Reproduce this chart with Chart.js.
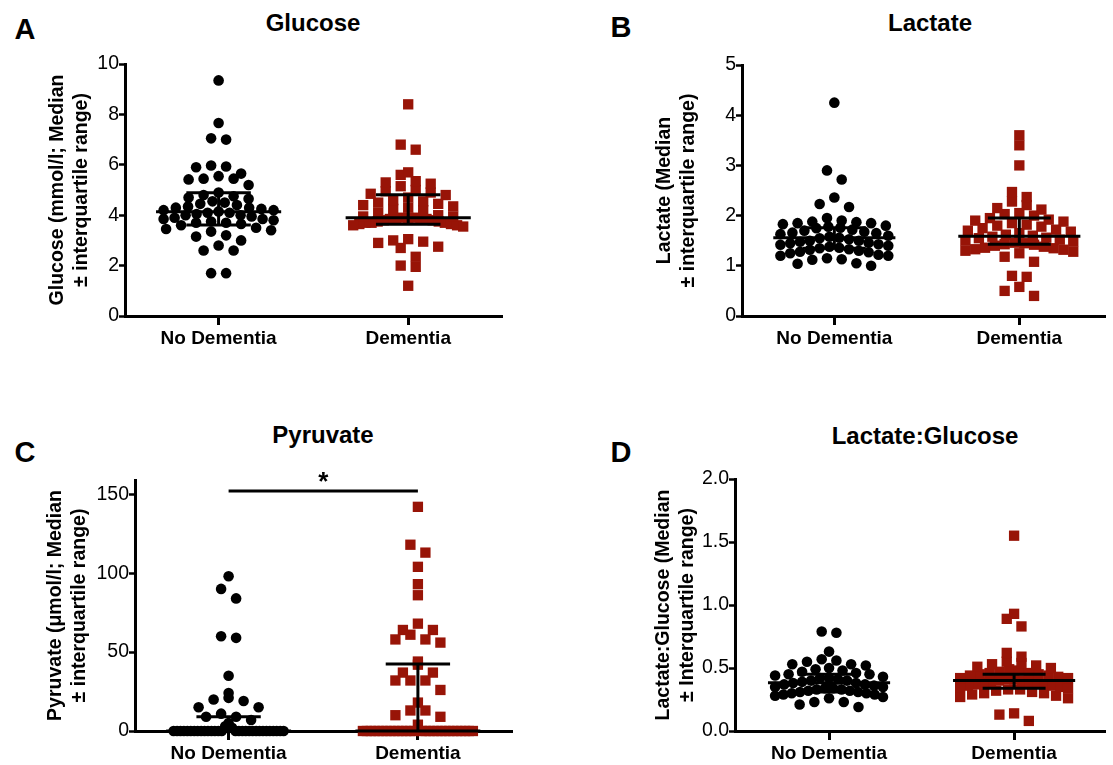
<!DOCTYPE html>
<html>
<head>
<meta charset="utf-8">
<script src="https://cdn.jsdelivr.net/npm/chart.js@4.4.1/dist/chart.umd.min.js"></script>
<style>
  html, body { margin: 0; padding: 0; background: #fff; overflow: hidden; }
  body { width: 1113px; height: 765px; position: relative; font-family: 'Liberation Sans', Arial, Helvetica, sans-serif; }
  .box { position: absolute; }
  .lbl { position: absolute; font-weight: bold; line-height: 1; white-space: nowrap; transform: translate(-50%, -50%); color: #000; }
</style>
</head>
<body>
<script>
// ---- data ----
var categories = ['No Dementia', 'Dementia'];

var glucoseNoDementia = [9.35, 7.66, 7.05, 7.0, 5.97, 5.93, 5.9, 5.65, 5.55, 5.45, 5.45, 5.42, 5.2, 4.9, 4.8, 4.75,
  4.7, 4.65, 4.55, 4.5, 4.45, 4.4, 4.35, 4.3, 4.3, 4.25, 4.2, 4.2, 4.15, 4.1, 4.1, 4.05, 4.0, 4.0, 3.95, 3.9,
  3.85, 3.85, 3.8, 3.75, 3.7, 3.7, 3.65, 3.6, 3.5, 3.45, 3.4, 3.35, 3.2, 3.15, 3.0, 2.8, 2.6, 2.6, 1.7, 1.7];
var glucoseDementia = [8.4, 6.8, 6.6, 5.7, 5.6, 5.35, 5.3, 5.25, 5.15, 5.0, 4.95, 4.9, 4.85, 4.8, 4.7, 4.6,
  4.55, 4.5, 4.45, 4.4, 4.35, 4.3, 4.25, 4.2, 4.1, 4.0, 3.95, 3.95, 3.9, 3.9, 3.9, 3.88, 3.85, 3.85, 3.85, 3.8,
  3.8, 3.75, 3.75, 3.7, 3.7, 3.7, 3.65, 3.65, 3.6, 3.6, 3.55, 3.05, 3.0, 2.95, 2.9, 2.75, 2.7, 2.35, 2.0, 1.95, 1.2];
var glucoseMedian = [4.14, 3.9];
var glucoseQ1 = [3.61, 3.64];
var glucoseQ3 = [4.89, 4.81];
var glucoseTicks = [0, 2, 4, 6, 8, 10];

var lactateNoDementia = [4.25, 2.9, 2.72, 2.36, 2.23, 2.17, 1.95, 1.9, 1.88, 1.87, 1.85, 1.85, 1.83, 1.8, 1.78,
  1.76, 1.75, 1.72, 1.7, 1.68, 1.66, 1.65, 1.63, 1.6, 1.58, 1.56, 1.55, 1.53, 1.5, 1.5, 1.48, 1.46, 1.45, 1.43,
  1.42, 1.4, 1.38, 1.36, 1.35, 1.33, 1.32, 1.3, 1.28, 1.27, 1.25, 1.22, 1.2, 1.2, 1.15, 1.13, 1.12, 1.05, 1.04, 1.0];
var lactateDementia = [3.6, 3.4, 3.0, 2.47, 2.37, 2.28, 2.21, 2.15, 2.12, 2.05, 2.03, 2.0, 1.95, 1.92, 1.9, 1.88,
  1.85, 1.82, 1.8, 1.78, 1.75, 1.72, 1.7, 1.68, 1.65, 1.62, 1.6, 1.58, 1.56, 1.55, 1.52, 1.5, 1.48, 1.46, 1.45,
  1.43, 1.42, 1.4, 1.38, 1.36, 1.35, 1.33, 1.32, 1.3, 1.28, 1.25, 1.18, 1.08, 0.8, 0.78, 0.58, 0.5, 0.4];
var lactateMedian = [1.56, 1.59];
var lactateQ1 = [1.35, 1.43];
var lactateQ3 = [1.76, 1.95];
var lactateTicks = [0, 1, 2, 3, 4, 5];

var pyruvateNoDementia = [98, 90, 84, 60, 59, 35, 24, 21, 20, 19, 15, 15, 11, 9, 9, 7, 5, 3, 2,
  0, 0, 0, 0, 0, 0, 0, 0, 0, 0, 0, 0, 0, 0, 0, 0, 0, 0, 0, 0, 0, 0, 0, 0, 0, 0, 0, 0, 0, 0];
var pyruvateDementia = [142, 118, 113, 104, 93, 86, 68, 64, 64, 61, 58, 58, 56, 44, 42, 37, 37, 32, 32, 32,
  26, 18, 13, 13, 10, 9, 4, 0, 0, 0, 0, 0, 0, 0, 0, 0, 0, 0, 0, 0, 0, 0, 0, 0, 0, 0, 0, 0, 0, 0, 0, 0, 0, 0, 0];
var pyruvateMedian = [0, 0];
var pyruvateQ1 = [0, 0];
var pyruvateQ3 = [9, 42.5];
var pyruvateTicks = [0, 50, 100, 150];
var pyruvateSigPair = [1, 2];
var pyruvateSigLevel = 152;

var ratioNoDementia = [0.79, 0.78, 0.63, 0.57, 0.56, 0.55, 0.53, 0.53, 0.52, 0.5, 0.49, 0.48, 0.47, 0.46, 0.45,
  0.45, 0.44, 0.43, 0.42, 0.42, 0.41, 0.4, 0.4, 0.39, 0.38, 0.38, 0.37, 0.37, 0.36, 0.35, 0.35, 0.34, 0.34, 0.33,
  0.33, 0.32, 0.32, 0.31, 0.31, 0.3, 0.3, 0.29, 0.29, 0.28, 0.27, 0.26, 0.23, 0.23, 0.21, 0.19];
var ratioDementia = [1.55, 0.93, 0.89, 0.83, 0.62, 0.59, 0.55, 0.54, 0.53, 0.52, 0.51, 0.5, 0.49, 0.48, 0.47,
  0.46, 0.46, 0.45, 0.45, 0.44, 0.44, 0.43, 0.42, 0.42, 0.41, 0.41, 0.4, 0.4, 0.39, 0.39, 0.38, 0.38, 0.37, 0.37,
  0.36, 0.36, 0.35, 0.35, 0.34, 0.33, 0.33, 0.32, 0.31, 0.3, 0.3, 0.29, 0.28, 0.27, 0.26, 0.14, 0.13, 0.08];
var ratioMedian = [0.383, 0.40];
var ratioQ1 = [0.31, 0.34];
var ratioQ3 = [0.45, 0.45];
var ratioTicks = [0, 0.5, 1, 1.5, 2];

// ---- look & layout ----
var FONT = "'Liberation Sans', Arial, Helvetica, sans-serif";
var RED = '#981407';
var ROW_PX = 10, STEP_PX = 15, MAX_HALF_PX = 55;
var MED_HALF = 0.33, IQR_HALF = 0.17;

var panels = [
  { letter: 'A', letterPos: [25, 29], title: 'Glucose', titlePos: [313, 23],
    yTitle: ['Glucose (mmol/l; Median', '\u00b1 interquartile range)'],
    noDem: glucoseNoDementia, dem: glucoseDementia, med: glucoseMedian, q1: glucoseQ1, q3: glucoseQ3,
    ticks: glucoseTicks, yMax: 10, fmt: function (v) { return String(v); },
    canvas: [0, 48, 512, 316], plot: [125, 64, 502, 316], yTitleLeft: 46, cats: [218.6, 408.2] },
  { letter: 'B', letterPos: [621, 27], title: 'Lactate', titlePos: [930, 23],
    yTitle: ['Lactate (Median', '\u00b1 interquartile range)'],
    noDem: lactateNoDementia, dem: lactateDementia, med: lactateMedian, q1: lactateQ1, q3: lactateQ3,
    ticks: lactateTicks, yMax: 5, fmt: function (v) { return String(v); },
    canvas: [560, 49, 553, 315], plot: [742, 65, 1113, 316], yTitleLeft: 653, cats: [836.2, 1024.9] },
  { letter: 'C', letterPos: [25, 452], title: 'Pyruvate', titlePos: [323, 435],
    yTitle: ['Pyruvate (\u03bcmol/l; Median', '\u00b1 interquartile range)'],
    noDem: pyruvateNoDementia, dem: pyruvateDementia, med: pyruvateMedian, q1: pyruvateQ1, q3: pyruvateQ3,
    ticks: pyruvateTicks, yMax: 159, fmt: function (v) { return String(v); },
    sig: { pair: pyruvateSigPair, level: pyruvateSigLevel, text: '*' },
    canvas: [0, 464, 522, 301], plot: [135, 480, 512, 731], yTitleLeft: 44, cats: [228.6, 417.9] },
  { letter: 'D', letterPos: [621, 452], title: 'Lactate:Glucose', titlePos: [925, 436],
    yTitle: ['Lactate:Glucose (Median', '\u00b1 Interquartile range)'],
    noDem: ratioNoDementia, dem: ratioDementia, med: ratioMedian, q1: ratioQ1, q3: ratioQ3,
    ticks: ratioTicks, yMax: 2, fmt: function (v) { return v.toFixed(1); },
    canvas: [560, 463, 553, 302], plot: [735, 479, 1113, 731], yTitleLeft: 652, cats: [830.9, 1019.6] }
];

// Prism-like scatter dot layout: group values into rows, spread each row sideways
function swarm(values, cat, unitsPerPxY, catPerPx) {
  var sorted = values.slice().sort(function (a, b) { return a - b; });
  var rows = [], row = [];
  sorted.forEach(function (v) {
    if (row.length && (v - row[0]) / unitsPerPxY >= ROW_PX) {
      rows.push(row);
      row = [];
    }
    row.push(v);
  });
  if (row.length) rows.push(row);

  var pts = [];
  rows.forEach(function (r) {
    var n = r.length;
    var step = n > 1 ? Math.min(STEP_PX, 2 * MAX_HALF_PX / (n - 1)) : 0;
    var slots = [];
    for (var i = 0; i < n; i++) slots.push((i - (n - 1) / 2) * step);
    slots.sort(function (a, b) { return Math.abs(a) - Math.abs(b) || a - b; });
    r.slice().reverse().forEach(function (v, i) {
      pts.push({ x: cat + slots[i] * catPerPx, y: v });
    });
  });
  return pts;
}

function statLines(cat, med, q1, q3) {
  return [
    { x: cat - MED_HALF, y: med }, { x: cat + MED_HALF, y: med }, { x: cat, y: null },
    { x: cat - IQR_HALF, y: q3 }, { x: cat + IQR_HALF, y: q3 }, { x: cat, y: null },
    { x: cat - IQR_HALF, y: q1 }, { x: cat + IQR_HALF, y: q1 }, { x: cat, y: null },
    { x: cat, y: q1 }, { x: cat, y: q3 }
  ];
}

var sigStar = {
  id: 'sigStar',
  afterDatasetsDraw: function (chart, args, opts) {
    if (!opts || !opts.text) return;
    var ctx = chart.ctx;
    var x = chart.scales.x.getPixelForValue((opts.pair[0] + opts.pair[1]) / 2);
    var y = chart.scales.y.getPixelForValue(opts.level);
    ctx.save();
    ctx.font = 'bold 26px ' + FONT;
    ctx.fillStyle = '#000';
    ctx.textAlign = 'center';
    ctx.textBaseline = 'alphabetic';
    ctx.fillText(opts.text, x, y - 1);
    ctx.restore();
  }
};

function addLabel(text, pos, size) {
  var d = document.createElement('div');
  d.className = 'lbl';
  d.textContent = text;
  d.style.left = pos[0] + 'px';
  d.style.top = pos[1] + 'px';
  d.style.fontSize = size + 'px';
  document.body.appendChild(d);
}

Chart.defaults.font.family = FONT;
Chart.defaults.color = '#000';

panels.forEach(function (p) {
  addLabel(p.letter, p.letterPos, 29);
  addLabel(p.title, p.titlePos, 24);

  var cx = p.canvas[0], cy = p.canvas[1], cw = p.canvas[2], ch = p.canvas[3];
  var L = p.plot[0], T = p.plot[1], R = p.plot[2], B = p.plot[3];
  var catPx = p.cats[1] - p.cats[0];
  var xMin = 1 - (p.cats[0] - L) / catPx;
  var xMax = 1 + (R - p.cats[0]) / catPx;
  var yWidth = L - p.yTitleLeft;
  var xHeight = cy + ch - B;
  var unitsPerPxY = p.yMax / (B - T);

  var box = document.createElement('div');
  box.className = 'box';
  box.style.left = cx + 'px';
  box.style.top = cy + 'px';
  var canvas = document.createElement('canvas');
  canvas.width = cw;
  canvas.height = ch;
  canvas.style.width = cw + 'px';
  canvas.style.height = ch + 'px';
  box.appendChild(canvas);
  document.body.appendChild(box);

  var datasets = [
    { data: statLines(1, p.med[0], p.q1[0], p.q3[0]), showLine: true, borderColor: '#000', borderWidth: 3,
      pointRadius: 0, spanGaps: false, order: 0, clip: false },
    { data: statLines(2, p.med[1], p.q1[1], p.q3[1]), showLine: true, borderColor: '#000', borderWidth: 3,
      pointRadius: 0, spanGaps: false, order: 0, clip: false },
    { data: swarm(p.noDem, 1, unitsPerPxY, 1 / catPx), pointStyle: 'circle', pointRadius: 5.3,
      backgroundColor: '#000', borderWidth: 0, order: 1, clip: false },
    { data: swarm(p.dem, 2, unitsPerPxY, 1 / catPx), pointStyle: 'rect', pointRadius: 7.3,
      backgroundColor: RED, borderWidth: 0, order: 1, clip: false }
  ];
  if (p.sig) {
    datasets.push({ data: [{ x: p.sig.pair[0], y: p.sig.level }, { x: p.sig.pair[1], y: p.sig.level }],
      showLine: true, borderColor: '#000', borderWidth: 3, pointRadius: 0, order: 0, clip: false });
  }

  new Chart(canvas, {
    type: 'scatter',
    data: { datasets: datasets },
    plugins: [sigStar],
    options: {
      responsive: false,
      animation: false,
      events: [],
      layout: { padding: { left: p.yTitleLeft - cx, top: T - cy, right: cx + cw - R, bottom: 0 } },
      plugins: {
        legend: { display: false },
        tooltip: { enabled: false },
        title: { display: false },
        sigStar: p.sig ? p.sig : {}
      },
      scales: {
        x: {
          type: 'linear', min: xMin, max: xMax,
          afterBuildTicks: function (s) { s.ticks = [{ value: 1 }, { value: 2 }]; },
          afterFit: function (s) { s.height = xHeight; },
          ticks: {
            autoSkip: false, maxRotation: 0, padding: 2.5,
            font: { size: 19, weight: 'bold' }, color: '#000',
            callback: function (v) { return categories[Math.round(v) - 1]; }
          },
          grid: { drawOnChartArea: false, drawTicks: true, tickLength: 9, tickWidth: 3, tickColor: '#000' },
          border: { display: true, color: '#000', width: 3 }
        },
        y: {
          type: 'linear', min: 0, max: p.yMax,
          afterBuildTicks: function (s) { s.ticks = p.ticks.map(function (v) { return { value: v }; }); },
          afterFit: function (s) { s.width = yWidth; },
          ticks: {
            padding: 0, font: { size: 19.5 }, color: '#000',
            callback: function (v) { return p.fmt(v); }
          },
          grid: { drawOnChartArea: false, drawTicks: true, tickLength: 6, tickWidth: 2.5, tickColor: '#000' },
          border: { display: true, color: '#000', width: 3 },
          title: {
            display: true, text: p.yTitle, color: '#000',
            font: { size: 19.5, weight: 'bold', lineHeight: 1.22 },
            padding: { top: 0, bottom: 0 }
          }
        }
      }
    }
  });
});
</script>
</body>
</html>
